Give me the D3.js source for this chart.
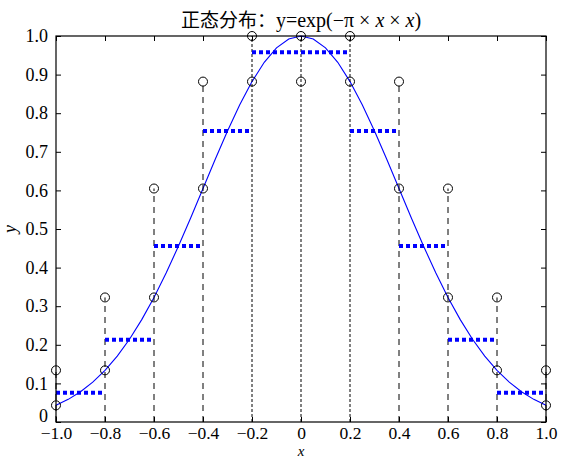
<!DOCTYPE html>
<html>
<head>
<meta charset="utf-8">
<script src="https://cdn.jsdelivr.net/npm/d3@7"></script>
<style>
  body { margin: 0; background: #fff; }
  text, tspan { font-family: "Liberation Serif", "DejaVu Serif", serif; fill: #000; }
</style>
</head>
<body>
<div id="chart"></div>
<script>
// sample points of the interval
var xs = [-1.0, -0.8, -0.6, -0.4, -0.2, 0.0, 0.2, 0.4, 0.6, 0.8, 1.0];
// circle on the curve at each x
var yLow = [0.0432, 0.1339, 0.3227, 0.6049, 0.8819, 1.0, 0.8819, 0.6049, 0.3227, 0.1339, 0.0432];
// second circle at each x
var yHigh = [0.1339, 0.3227, 0.6049, 0.8819, 1.0, 0.8819, 1.0, 0.8819, 0.6049, 0.3227, 0.1339];
// level of the blue bar on each interval
var midVals = [0.076, 0.213, 0.456, 0.754, 0.958, 0.958, 0.754, 0.456, 0.213, 0.076];
// the smooth curve
var curveX = [-1.0, -0.95, -0.9, -0.85, -0.8, -0.75, -0.7, -0.65, -0.6, -0.55, -0.5, -0.45, -0.4, -0.35, -0.3, -0.25, -0.2, -0.15, -0.1, -0.05,
              0.0, 0.05, 0.1, 0.15, 0.2, 0.25, 0.3, 0.35, 0.4, 0.45, 0.5, 0.55, 0.6, 0.65, 0.7, 0.75, 0.8, 0.85, 0.9, 0.95, 1.0];
var curveY = [0.0432, 0.0587, 0.0785, 0.1033, 0.1339, 0.1708, 0.2145, 0.2652, 0.3227, 0.3866, 0.4559, 0.5293, 0.6049, 0.6806, 0.7537, 0.8217, 0.8819, 0.9318, 0.9691, 0.9922,
              1.0, 0.9922, 0.9691, 0.9318, 0.8819, 0.8217, 0.7537, 0.6806, 0.6049, 0.5293, 0.4559, 0.3866, 0.3227, 0.2652, 0.2145, 0.1708, 0.1339, 0.1033, 0.0785, 0.0587, 0.0432];
var xTicks = [-1.0, -0.8, -0.6, -0.4, -0.2, 0, 0.2, 0.4, 0.6, 0.8, 1.0];
var xTickLabels = ['\u22121.0', '\u22120.8', '\u22120.6', '\u22120.4', '\u22120.2', '0', '0.2', '0.4', '0.6', '0.8', '1.0'];
var yTicks = [0, 0.1, 0.2, 0.3, 0.4, 0.5, 0.6, 0.7, 0.8, 0.9, 1.0];
var yTickLabels = ['0', '0.1', '0.2', '0.3', '0.4', '0.5', '0.6', '0.7', '0.8', '0.9', '1.0'];

var width = 561;
var height = 460;
var margin = { left: 56, top: 36, right: 15, bottom: 38 };
var w = width - margin.left - margin.right;
var h = height - margin.top - margin.bottom;
var serif = '"Liberation Serif", "DejaVu Serif", serif';

var x = d3.scaleLinear().domain([-1, 1]).range([0, w]);
var y = d3.scaleLinear().domain([0, 1]).range([h, 0]);

var svg = d3.select('#chart')
    .append('svg')
    .attr('width', width)
    .attr('height', height);

var g = svg.append('g')
    .attr('transform', 'translate(' + margin.left + ',' + margin.top + ')');

// curve
var line = d3.line()
    .x(function (d, i) { return x(curveX[i]); })
    .y(function (d) { return y(d); });
g.append('path')
    .datum(curveY)
    .attr('d', line)
    .attr('fill', 'none')
    .attr('stroke', '#0000ff')
    .attr('stroke-width', 1.1);

// vertical stems
g.selectAll('.stem')
    .data(xs)
    .enter()
    .append('line')
    .attr('class', 'stem')
    .attr('x1', function (d) { return x(d); })
    .attr('x2', function (d) { return x(d); })
    .attr('y1', y(0))
    .attr('y2', function (d, i) { return y(Math.max(yLow[i], yHigh[i])); })
    .attr('stroke', '#000')
    .attr('stroke-width', 1)
    .attr('stroke-dasharray', function (d) { return Math.abs(d) < 0.3 ? '3,2' : '6,5'; });

// bars on each interval
g.selectAll('.mid')
    .data(midVals)
    .enter()
    .append('line')
    .attr('class', 'mid')
    .attr('x1', function (d, i) { return x(xs[i]); })
    .attr('x2', function (d, i) { return x(xs[i + 1]); })
    .attr('y1', function (d) { return y(d); })
    .attr('y2', function (d) { return y(d); })
    .attr('stroke', '#0000ff')
    .attr('stroke-width', 4)
    .attr('stroke-dasharray', '4,3');

// circles
[yLow, yHigh].forEach(function (vals) {
    g.selectAll(null)
        .data(vals)
        .enter()
        .append('circle')
        .attr('cx', function (d, i) { return x(xs[i]); })
        .attr('cy', function (d) { return y(d); })
        .attr('r', 4.5)
        .attr('fill', 'none')
        .attr('stroke', '#000')
        .attr('stroke-width', 1);
});

// frame
g.append('rect')
    .attr('width', w)
    .attr('height', h)
    .attr('fill', 'none')
    .attr('stroke', '#000')
    .attr('stroke-width', 1.2);

// axes with inward ticks
var fmtX = function (d, i) { return xTickLabels[i]; };
var fmtY = function (d, i) { return yTickLabels[i]; };

var xb = g.append('g').attr('transform', 'translate(0,' + h + ')')
    .call(d3.axisBottom(x).tickValues(xTicks).tickFormat(fmtX).tickSizeInner(-5).tickSizeOuter(0).tickPadding(6));
var xt = g.append('g')
    .call(d3.axisTop(x).tickValues(xTicks).tickFormat('').tickSizeInner(-5).tickSizeOuter(0));
var yl = g.append('g')
    .call(d3.axisLeft(y).tickValues(yTicks).tickFormat(fmtY).tickSizeInner(-5).tickSizeOuter(0).tickPadding(8));
var yr = g.append('g').attr('transform', 'translate(' + w + ',0)')
    .call(d3.axisRight(y).tickValues(yTicks).tickFormat('').tickSizeInner(-5).tickSizeOuter(0));

[xb, xt, yl, yr].forEach(function (a) {
    a.attr('font-family', null).attr('font-size', null);
    a.select('.domain').remove();
    a.selectAll('text')
        .style('font-family', serif)
        .style('font-size', '18px')
        .attr('fill', '#000');
    a.selectAll('line').attr('stroke', '#000');
});
xb.selectAll('text').attr('dy', '0.64em').style('font-size', '17.5px');
// lift the zero label a little so it clears the x labels
yl.selectAll('text').filter(function (d) { return d === 0; }).attr('dy', '-0.05em');

// axis labels
svg.append('text')
    .attr('x', margin.left + w / 2)
    .attr('y', 456)
    .attr('text-anchor', 'middle')
    .style('font-family', serif)
    .style('font-size', '15px')
    .style('font-style', 'italic')
    .text('x');

svg.append('text')
    .attr('transform', 'translate(16,' + (margin.top + h / 2) + ') rotate(-90)')
    .attr('text-anchor', 'middle')
    .style('font-family', serif)
    .style('font-size', '18px')
    .style('font-style', 'italic')
    .text('y');

// title
var title = svg.append('text')
    .attr('x', margin.left + w / 2)
    .attr('y', 27)
    .attr('text-anchor', 'middle')
    .style('font-family', serif)
    .style('font-size', '20px');
title.append('tspan').style('font-family', '"Noto Sans CJK SC", sans-serif').style('font-size', '19px').text('正态分布：');
title.append('tspan').style('font-family', serif).text('y=exp(\u2212\u03c0 \u00d7 ');
title.append('tspan').style('font-family', serif).style('font-style', 'italic').text('x');
title.append('tspan').style('font-family', serif).text(' \u00d7 ');
title.append('tspan').style('font-family', serif).style('font-style', 'italic').text('x');
title.append('tspan').style('font-family', serif).text(')');
</script>
</body>
</html>
